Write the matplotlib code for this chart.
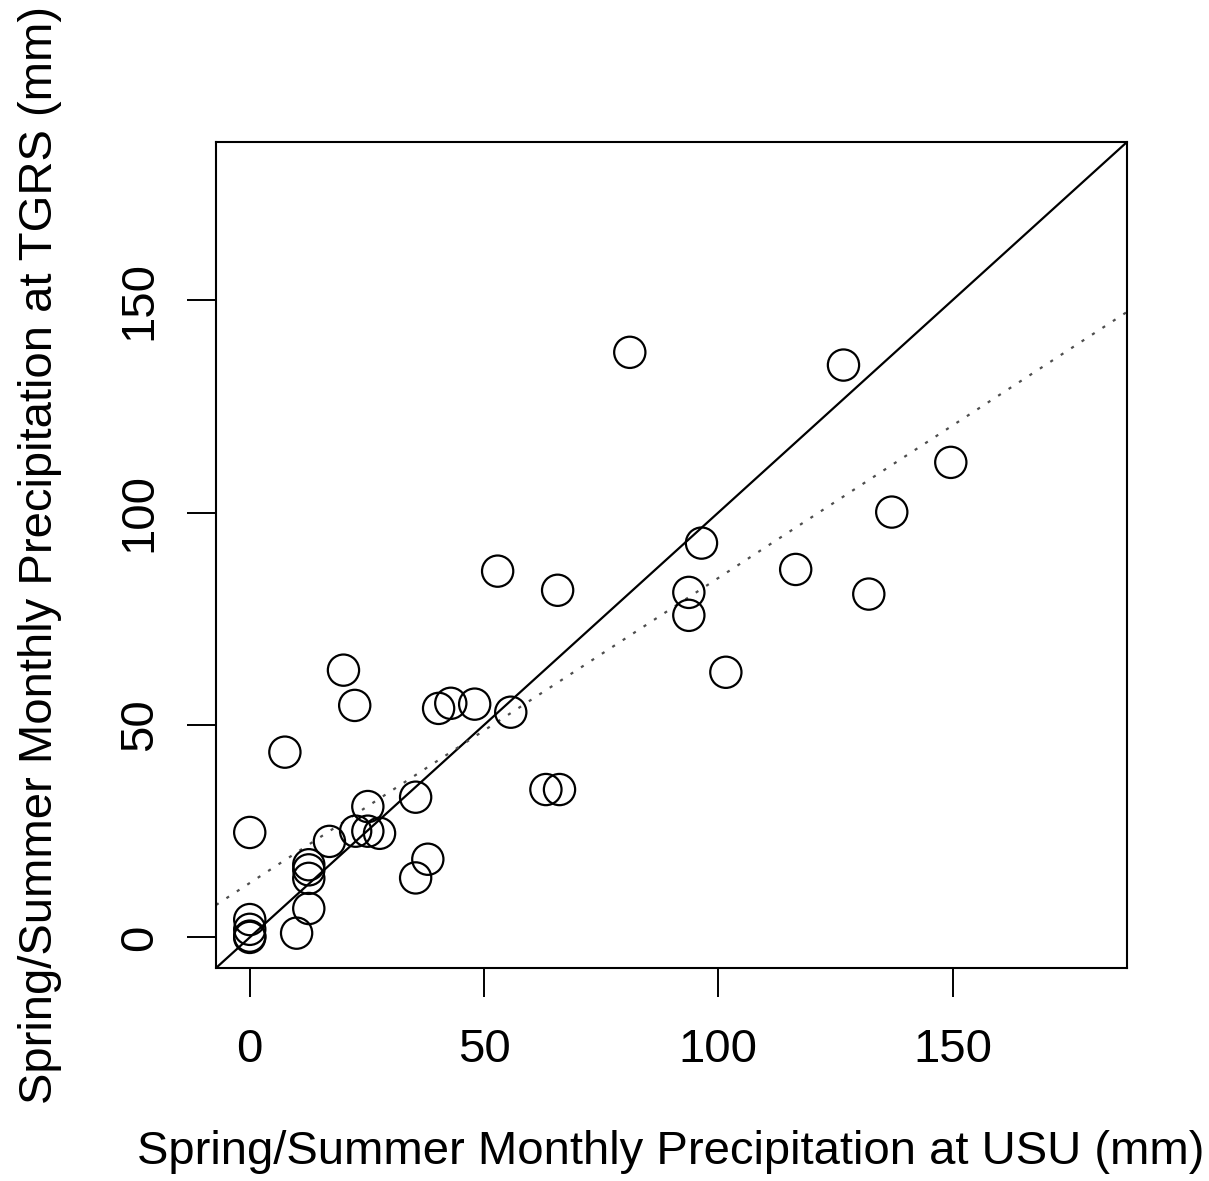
import numpy as np
import matplotlib.pyplot as plt

plt.rcParams["font.family"] = ["Liberation Sans", "DejaVu Sans"]

# monthly precipitation (mm)
usu = [0, 0, 0, 0, 0, 7.5, 10, 12.6, 12.6, 12.6, 12.6, 17, 20, 22.4, 22.6,
       25.2, 25.2, 27.7, 35.4, 35.4, 38, 40.3, 42.9, 48, 55.7, 52.9, 65.7,
       63.2, 66.1, 81.1, 96.4, 93.7, 93.7, 101.6, 116.5, 126.7, 132.1, 137,
       149.6]
tgrs = [24.7, 4.2, 1.9, 0.3, 0, 43.6, 1, 6.8, 17.1, 15.9, 13.9, 22.6, 62.9,
        54.6, 25, 30.8, 25, 24.5, 33, 14, 18.4, 53.9, 55.1, 54.9, 53, 86.2,
        81.7, 34.8, 34.8, 137.7, 92.8, 81.2, 75.8, 62.4, 86.6, 134.7, 80.8,
        100.1, 111.8]

# fitted line (dotted)
fit_intercept = 12.8
fit_slope = 0.718

ticks = [0, 50, 100, 150]
lims = (-7.2, 187.2)

W, H = 1209, 1181
fig = plt.figure(figsize=(W / 100, H / 100), dpi=100)
ax = fig.add_axes([216 / W, 1 - 968 / H, (1127 - 216) / W, (968 - 142) / H])

ax.scatter(usu, tgrs, s=22.5 ** 2, facecolors="none", edgecolors="black",
           linewidths=1.6, zorder=3)

ax.axline((0, 0), slope=1, color="black", lw=1.6)
ax.axline((0, fit_intercept), slope=fit_slope, color="0.3", lw=1.6,
          linestyle=(0, (1.4, 4.2)))

ax.set_xlim(lims)
ax.set_ylim(lims)
ax.set_xticks(ticks)
ax.set_yticks(ticks)
ax.tick_params(axis="both", direction="out", length=21, width=1.4,
               labelsize=34, color="black")
ax.tick_params(axis="x", pad=22)
ax.tick_params(axis="y", pad=18)
for lab in ax.get_yticklabels():
    lab.set_rotation(90)
    lab.set_va("center")
for s in ax.spines.values():
    s.set_linewidth(1.5)

fig.text(671 / W, 1 - 1152 / H, "Spring/Summer Monthly Precipitation at USU (mm)",
         fontsize=34, ha="center", va="center")
fig.text(40 / W, 1 - 555 / H, "Spring/Summer Monthly Precipitation at TGRS (mm)",
         fontsize=34, ha="center", va="center", rotation=90)

fig.savefig("out.png", dpi=100)
